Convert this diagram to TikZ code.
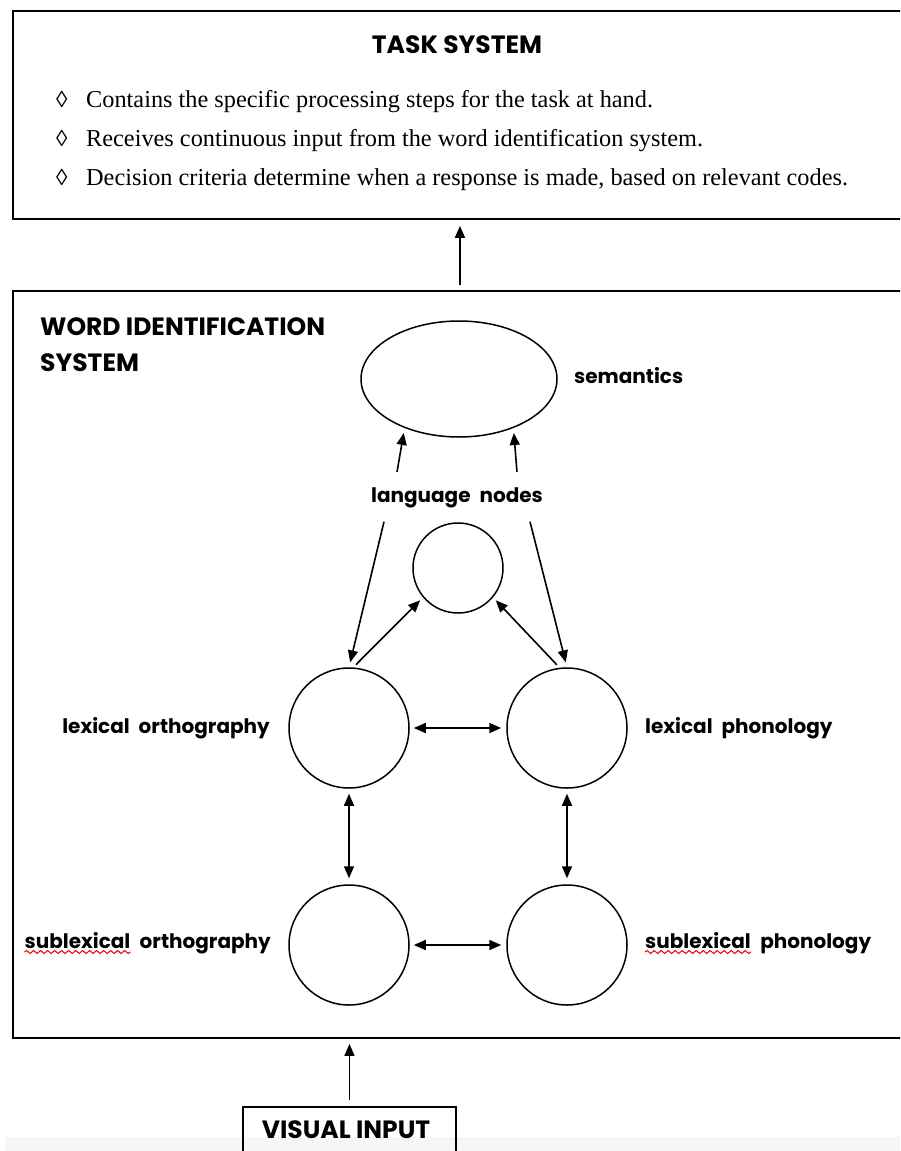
\documentclass[tikz,border=0pt]{standalone}
\usepackage{fontspec}
\setmainfont{Liberation Serif}
\newfontfamily\gothic{Poppins}
\newcommand\lblgap{\hspace{9pt}}
\usetikzlibrary{arrows.meta,shapes.geometric,decorations.pathmorphing,calc}

\tikzset{
  frame/.style={draw, line width=1.9pt, inner sep=0pt, anchor=north west},
  ring/.style={draw, circle, line width=1.5pt, inner sep=0pt},
  oval/.style={draw, ellipse, line width=1.5pt, inner sep=0pt},
  tip/.tip={Triangle[length=12pt,width=10pt]},
  arr/.style={line width=1.6pt, -tip},
  dbl/.style={line width=1.6pt, tip-tip},
  lbl/.style={font=\gothic\bfseries\fontsize{20}{24}\selectfont, inner sep=0pt},
  head/.style={font=\gothic\bfseries\fontsize{25}{30}\selectfont, inner sep=0pt},
  body/.style={font=\fontsize{24.3}{29}\selectfont, inner sep=0pt},
  bullet/.style={font=\fontsize{23}{28}\selectfont, inner sep=0pt},
  squig/.style={draw=red!90!black, line width=1pt, decorate,
    decoration={snake, amplitude=1.5pt, segment length=7pt}},
}

\begin{document}
\begin{tikzpicture}[x=1pt, y=-1pt]
\useasboundingbox (0,0) rectangle (900,1151);
\clip (0,0) rectangle (900,1151);

% light strip along the lower edge
\fill[gray!7] (5,1137) rectangle (900,1151);

% outer frames
\node[frame, minimum width=894pt, minimum height=208pt] (task) at (12,10) {};
\node[frame, minimum width=894pt, minimum height=747pt] (wi) at (12,290) {};
\node[frame, minimum width=213pt, minimum height=70pt] (vi) at (242,1106) {};

% task system text
\node[head, anchor=base] (tt) at (457,53) {TASK SYSTEM};
\node[bullet, anchor=base west] (d1) at (56,107) {◊};
\node[bullet, anchor=base west] (d2) at (56,146) {◊};
\node[bullet, anchor=base west] (d3) at (56,185) {◊};
\node[body, anchor=base west] (b1) at (86,107) {Contains the specific processing steps for the task at hand.};
\node[body, anchor=base west] (b2) at (86,146) {Receives continuous input from the word identification system.};
\node[body, anchor=base west] (b3) at (86,185) {Decision criteria determine when a response is made, based on relevant codes.};

% word identification system
\node[head, anchor=base west] (wt1) at (40,335) {WORD IDENTIFICATION};
\node[head, anchor=base west] (wt2) at (40,371) {SYSTEM};

\node[oval, minimum width=196pt, minimum height=116pt] (sem) at (459,379) {};
\node[ring, minimum size=90pt] (lang) at (458,568) {};
\node[ring, minimum size=120pt] (lo) at (349,728) {};
\node[ring, minimum size=120pt] (lp) at (567,728) {};
\node[ring, minimum size=120pt] (so) at (349,945) {};
\node[ring, minimum size=120pt] (sp) at (567,945) {};

\node[lbl, anchor=base west] (seml) at (574,383) {semantics};
\node[lbl, anchor=base] (lnl) at (457,502) {language\lblgap nodes};
\node[lbl, anchor=base east] (lol) at (270,733) {lexical\lblgap orthography};
\node[lbl, anchor=base west] (lpl) at (645,733) {lexical\lblgap phonology};

\node[lbl, anchor=base east] (sob) at (271,948) {\lblgap orthography};
\node[lbl, anchor=base east] (soa) at (sob.base west) {sublexical};
\node[lbl, anchor=base west] (spa) at (645,948) {sublexical};
\node[lbl, anchor=base west] (spb) at (spa.base east) {\lblgap phonology};
\draw[squig] ([yshift=-4pt]soa.base west) -- ([yshift=-4pt]soa.base east);
\draw[squig] ([yshift=-4pt]spa.base west) -- ([yshift=-4pt]spa.base east);

\node[head, anchor=base] (vil) at (346,1138) {VISUAL INPUT};

% connectors
\draw[arr, shorten <=5pt, shorten >=6pt] (wi.north) -- (task.south);
\draw[arr, shorten <=6pt, shorten >=5pt] (vi.north) -- (vi.north |- wi.south);

\draw[arr, shorten >=5pt] ([shift={(-60,-15)}]lnl.north) -- (sem.222);
\draw[arr, shorten >=5pt] ([shift={(60,-15)}]lnl.north) -- (sem.318);
\draw[arr, shorten >=5pt] ([shift={(-73,14)}]lnl.south) -- (lo.north);
\draw[arr, shorten >=5pt] ([shift={(73,14)}]lnl.south) -- (lp.north);

\draw[arr, shorten <=4pt, shorten >=4pt] (lo.86) -- (lang.220);
\draw[arr, shorten <=4pt, shorten >=4pt] (lp.97) -- (lang.320);

\draw[dbl, shorten <=4pt, shorten >=5pt] (lo) -- (lp);
\draw[dbl, shorten <=4pt, shorten >=5pt] (so) -- (sp);
\draw[dbl, shorten <=5pt, shorten >=6pt] (lo) -- (so);
\draw[dbl, shorten <=5pt, shorten >=6pt] (lp) -- (sp);
\end{tikzpicture}
\end{document}
